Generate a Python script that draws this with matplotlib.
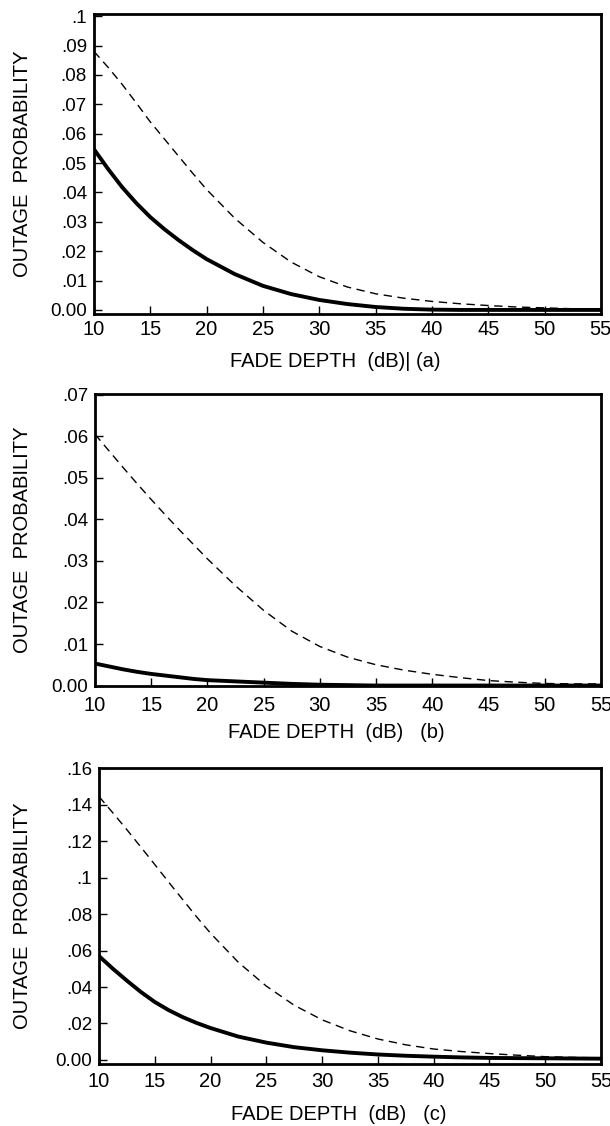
import matplotlib
matplotlib.use("Agg")
import matplotlib.pyplot as plt

plt.rcParams['font.family'] = ['Liberation Sans', 'DejaVu Sans']

# fade depth (dB)
depth = [10, 11.25, 12.5, 13.75, 15, 16.25, 17.5, 18.75, 20, 22.5, 25, 27.5, 30,
         32.5, 35, 37.5, 40, 42.5, 45, 47.5, 50, 52.5, 55]

# (a)
a_solid = [0.0547, 0.0480, 0.0418, 0.0364, 0.0316, 0.0275, 0.0238, 0.0204, 0.0173, 0.0122, 0.0082, 0.0054, 0.0034,
           0.0020, 0.0010, 0.0004, 0.0001, 0.0, 0.0, 0.0, 0.0, 0.0, 0.0]
a_dash = [0.0880, 0.0826, 0.0768, 0.0705, 0.0640, 0.0582, 0.0524, 0.0466, 0.0410, 0.0312, 0.0230, 0.0163, 0.0113,
          0.0078, 0.0055, 0.0040, 0.0029, 0.0021, 0.0015, 0.0010, 0.0007, 0.0004, 0.0002]
# (b)
b_solid = [0.0053, 0.0046, 0.0039, 0.0033, 0.0028, 0.0024, 0.0020, 0.0016, 0.0013, 0.0010, 0.0007, 0.0004, 0.0002,
           0.0001, 0.0, 0.0, 0.0, 0.0, 0.0, 0.0, 0.0, 0.0, 0.0]
b_dash = [0.0605, 0.0565, 0.0525, 0.0486, 0.0448, 0.0411, 0.0375, 0.0340, 0.0305, 0.0240, 0.0181, 0.0131, 0.0094,
          0.0068, 0.0050, 0.0037, 0.0027, 0.0019, 0.0012, 0.0008, 0.0005, 0.0004, 0.0004]
# (c)
c_solid = [0.0570, 0.0500, 0.0435, 0.0373, 0.0318, 0.0273, 0.0235, 0.0203, 0.0175, 0.0128, 0.0095, 0.0070, 0.0053,
           0.0040, 0.0030, 0.0023, 0.0018, 0.0014, 0.0011, 0.0010, 0.0009, 0.0008, 0.0007]
c_dash = [0.1445, 0.1355, 0.1263, 0.1168, 0.1072, 0.0975, 0.0880, 0.0785, 0.0695, 0.0535, 0.0405, 0.0300, 0.0220,
          0.0160, 0.0115, 0.0083, 0.0060, 0.0046, 0.0035, 0.0026, 0.0018, 0.0014, 0.0011]

x_ticks = [10, 15, 20, 25, 30, 35, 40, 45, 50, 55]

a_yticks = [0, .01, .02, .03, .04, .05, .06, .07, .08, .09, .1]
a_ylabels = ['0.00', '.01', '.02', '.03', '.04', '.05', '.06', '.07', '.08', '.09', '.1']
b_yticks = [0, .01, .02, .03, .04, .05, .06, .07]
b_ylabels = ['0.00', '.01', '.02', '.03', '.04', '.05', '.06', '.07']
c_yticks = [0, .02, .04, .06, .08, .1, .12, .14, .16]
c_ylabels = ['0.00', '.02', '.04', '.06', '.08', '.1', '.12', '.14', '.16']

# rect, data, y range, x label, x tick pad, x label offset (axes fraction)
panels = [
    ([0.154, 0.7211, 0.831, 0.2664], a_solid, a_dash, a_yticks, a_ylabels, (-0.0014, 0.1007),
     'FADE DEPTH  (dB)| (a)', 4, -0.157),
    ([0.1557, 0.3908, 0.8295, 0.2593], b_solid, b_dash, b_yticks, b_ylabels, (-0.0001, 0.0702),
     'FADE DEPTH  (dB)   (b)', 7, -0.158),
    ([0.1623, 0.0551, 0.823, 0.2629], c_solid, c_dash, c_yticks, c_ylabels, (-0.0022, 0.1602),
     'FADE DEPTH  (dB)   (c)', 6, -0.172),
]

fig = plt.figure(figsize=(6.1, 11.26), dpi=100)

for rect, solid, dash, yt, yl, ylim, xlab, xpad, xlab_y in panels:
    ax = fig.add_axes(rect)
    ax.plot(depth, dash, color='black', linewidth=1.0, linestyle=(0, (6, 4)))
    ax.plot(depth, solid, color='black', linewidth=2.8, solid_capstyle='round')
    ax.set_xlim(10, 55)
    ax.set_ylim(*ylim)
    ax.set_xticks(x_ticks)
    ax.set_yticks(yt)
    ax.set_yticklabels(yl)
    ax.tick_params(direction='in', length=6, width=1)
    ax.tick_params(axis='x', labelsize=14.5, pad=xpad)
    ax.tick_params(axis='y', labelsize=13.5, pad=5)
    for s in ax.spines.values():
        s.set_linewidth(2)
    ax.set_xlabel(xlab, fontsize=14.5)
    ax.xaxis.set_label_coords(0.477, xlab_y)
    ax.xaxis.label.set_va('center')
    ax.set_ylabel('OUTAGE  PROBABILITY', fontsize=14.5)
    ax.yaxis.set_label_coords(-(rect[0] * 610 - 23) / (rect[2] * 610), 0.5)
    ax.yaxis.label.set_va('center')

fig.savefig('out.png', dpi=100)
